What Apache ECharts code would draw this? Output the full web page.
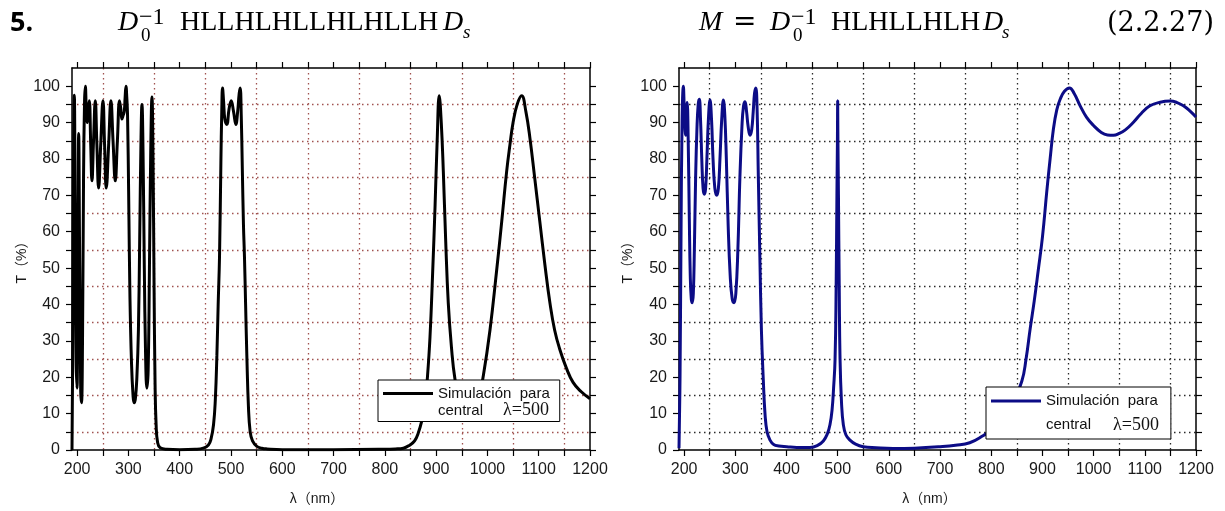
<!DOCTYPE html>
<html>
<head>
<meta charset="utf-8">
<script src="https://cdn.jsdelivr.net/npm/echarts@6/dist/echarts.min.js"></script>
<style>
html,body{margin:0;padding:0;background:#fff;}
#chart{width:1225px;height:511px;}
</style>
</head>
<body>
<div id="chart"></div>
<script>
// ---------- Data: left panel (D0^-1 HLLHLHLLHLHLLH Ds) ----------
const wavelengthA = [190,191.5,193,194.5,196,198,199.7,201.5,203,205,207,208.5,210.5,212.5,214.5,216,218,219.8,221.8,223.7,226.5,228.9,232,235.4,238.5,241.9,246,250.4,253.5,256.8,261.5,265.9,270,274.4,278.5,282.7,285,287.4,289.7,291.9,293.6,295.2,296.8,298.3,300.5,303,306,309,311,313.5,316.5,319.5,322,324.5,326.4,328.5,331,333.5,336,338.5,341,343.5,345.9,348,350,352,354,357,362,375,400,430,446,456,461,466,469.5,472.5,475,477.6,480.3,482,483.5,485.5,488,492,496,500.4,505,509.5,513,516,517.9,520,522,524.3,526.3,528.5,530.9,534,537.4,542,550.4,560,570,600,700,800,820,836,849,858,865,872,878,883,888,893,898,902,906,910,914,918.5,923.7,930,936.7,945,955,965,975,985,992,1005,1018,1028,1037.5,1044,1050,1058,1066.7,1075,1083,1092,1102,1112,1122,1131,1141,1154,1167,1183,1200];
const transmissionA = [0,30,80,97.5,70,25,17,55,87,50,16,13,30,75,96,100,93,90,94,96,84,74,85,96,84,72,84,96,84,72,84,96,85,74,85,96,94,91,92,93,97,100,97,92,70,42,24,15,13,14,20,33,58,85,95,82,50,26,17,22,50,82,97,80,45,18,7,2,0.6,0.2,0.1,0.2,0.5,1.4,3,7,14,26,40,53,79,93,99.5,96,91,89.5,93.5,96,93,89.5,93,98,99.5,92,78,62,53,40,26,12,5,2.5,1,0.5,0.3,0.1,0.1,0.2,0.3,0.5,1.4,2.5,4.6,8,12.2,20,31,48,67.5,85,97.4,90,76.6,58,40.3,28,19.5,14.5,12.5,12,13,16,20.4,33,49.4,63,76.6,84,90,95,97.4,93,85.6,75,63,51,40.3,33,27.7,22.5,18.6,16,14.1];

// ---------- Data: right panel (M = D0^-1 HLHLLHLH Ds) ----------
const wavelengthB = [190,192,194,196,198.5,200.5,203,204.5,206,208,210,212,214,216,218,220,222.5,225,227.5,229.7,232,234.5,237,239.5,242,244.5,247.5,250.6,253.5,256.5,260,263.7,267,270,273.5,276.7,279.5,282.5,286,290,294,297.5,301,305,309,313,316,319,322,325,328.8,332,335,337.5,340,342.5,345,348,351,354.8,358,362,367.8,375,385,400.5,420,446,460,472,480,485,489,492,494.9,497,498.5,499.5,500,500.5,501.5,503,504.6,507.5,511,516,524,535,550,575,608,650,700,730,758,784.7,800,820,840,859.7,868,876,884,892,900,908.6,915,921.5,928,934.6,943,952.8,962,973.7,986,999.7,1015,1027,1038.7,1050,1062,1077.8,1093,1110,1130,1149.6,1163,1175.5,1188,1200];
const transmissionB = [0.5,20,60,90,100,93,86.5,91,95.5,85,65,48,41.5,40.5,43,55,75,88,95,96.4,91,80,72,70.3,72,80,91,96.2,91,80,72,70,72,80,91,96.2,92,80,62,48,41.5,40.5,43,55,75,89,94.5,95.7,93,89,86.5,88,93,98,99.5,94,75,53,33,18.9,10,5,2.7,1.5,1.1,0.9,0.7,0.7,1.2,2.5,4.5,7,11,17,25,45,70,85,96,85,70,45,25,13,7,4.2,2.7,1.6,0.9,0.6,0.4,0.5,0.9,1.3,2,4,5.5,8.5,12.5,18.9,25,33.3,41,49.6,58.5,71.2,80,88.3,93.5,96.4,98.6,99.5,98,94.6,91.5,89.2,87.3,86.6,86.5,87,88,90.1,92.5,94.6,95.6,95.9,95.5,94.6,93.2,91.5];

// ---------- Axis ticks / labels ----------
const xLabelValues = [200,300,400,500,600,700,800,900,1000,1100,1200];
const xTickValues = [200,250,300,350,400,450,500,550,600,650,700,750,800,850,900,950,1000,1050,1100,1150,1200];
const xGridValues = [250,350,450,550,650,750,850,950,1050,1150];
const yLabelValues = [0,10,20,30,40,50,60,70,80,90,100];
const yTickValues = [0,5,10,15,20,25,30,35,40,45,50,55,60,65,70,75,80,85,90,95,100];
const yGridValues = [5,15,25,35,45,55,65,75,85,95];

const seriesNameA = 'Simulación para central λ=500 (5)';
const seriesNameB = 'Simulación para central λ=500 (2.2.27)';
const lineColorA = '#000000';
const lineColorB = '#0c0c86';

const chart = echarts.init(document.getElementById('chart'), null, {renderer: 'canvas'});

const gridDefs = [
  {left: 72, top: 68, width: 518, height: 387},
  {left: 679, top: 68, width: 517, height: 389}
];
const gridColors = ['#a0524f', '#2a2a2a'];
const nameShift = [28, 16];
const yNameGap = [40, 44];

const sansFont = '"Liberation Sans", Arial, sans-serif';
const serifFont = '"Liberation Serif", "Times New Roman", serif';
const plainNum = v => String(v);

const xAxes = [];
const yAxes = [];
gridDefs.forEach((g, i) => {
  const axisLine = {show: true, onZero: false, lineStyle: {color: '#000', width: 1.5}};
  const tickStyle = {color: '#000', width: 1.2};
  xAxes.push({
    gridIndex: i, type: 'value', min: 190, max: 1200, position: 'bottom',
    axisLine: axisLine,
    axisTick: {show: true, inside: false, length: 6, customValues: xTickValues, lineStyle: tickStyle},
    axisLabel: {show: true, customValues: xLabelValues, formatter: plainNum, fontSize: 16, color: '#1a1a1a', margin: 12, fontFamily: sansFont},
    splitLine: {show: false},
    name: 'λ（nm）', nameLocation: 'middle', nameGap: 42,
    nameTextStyle: {fontSize: 14, color: '#1a1a1a', fontFamily: '"Liberation Sans", "Noto Sans CJK SC", sans-serif', padding: [0, nameShift[i], 0, 0]}
  });
  xAxes.push({
    gridIndex: i, type: 'value', min: 190, max: 1200, position: 'top',
    axisLine: axisLine,
    axisTick: {show: true, inside: false, length: 6, customValues: xTickValues, lineStyle: tickStyle},
    axisLabel: {show: false},
    splitLine: {show: false}
  });
  xAxes.push({
    gridIndex: i, type: 'value', min: 190, max: 1200, position: 'bottom',
    axisLine: {show: false},
    axisTick: {show: false, customValues: xGridValues},
    axisLabel: {show: false},
    splitLine: {show: true, lineStyle: {color: gridColors[i], width: 1.3, type: [1.5, 3.5]}}
  });
  yAxes.push({
    gridIndex: i, type: 'value', min: 0, max: 105, position: 'left',
    axisLine: axisLine,
    axisTick: {show: true, inside: false, length: 6, customValues: yTickValues, lineStyle: tickStyle},
    axisLabel: {show: true, customValues: yLabelValues, formatter: plainNum, fontSize: 16, color: '#1a1a1a', margin: 12, fontFamily: sansFont},
    splitLine: {show: false},
    name: 'T（%）', nameLocation: 'middle', nameGap: yNameGap[i], nameRotate: 90,
    nameTextStyle: {fontSize: 14, color: '#1a1a1a', fontFamily: '"Liberation Sans", "Noto Sans CJK SC", sans-serif'}
  });
  yAxes.push({
    gridIndex: i, type: 'value', min: 0, max: 105, position: 'right',
    axisLine: axisLine,
    axisTick: {show: true, inside: false, length: 6, customValues: yTickValues, lineStyle: tickStyle},
    axisLabel: {show: false},
    splitLine: {show: false}
  });
  yAxes.push({
    gridIndex: i, type: 'value', min: 0, max: 105, position: 'left',
    axisLine: {show: false},
    axisTick: {show: false, customValues: yGridValues},
    axisLabel: {show: false},
    splitLine: {show: true, lineStyle: {color: gridColors[i], width: 1.3, type: [1.5, 3.5]}}
  });
});

function legendRich(color, lineH, centralW) {
  return {
    l: {width: 50, height: 3, backgroundColor: color},
    g: {width: 5},
    sp: {width: 55},
    a: {fontSize: 15, fontFamily: sansFont, color: '#111', lineHeight: lineH},
    b: {fontSize: 15, fontFamily: sansFont, color: '#111', lineHeight: lineH, width: centralW},
    c: {fontSize: 18, fontFamily: serifFont, color: '#111', lineHeight: lineH}
  };
}
const legendText = '{l|}{g|}{a|Simulación  para}\n{sp|}{b|central}{c|λ=500}';

const titleFont = '28px "Liberation Serif", serif';
const titleItalic = 'italic 28px "Liberation Serif", serif';
function t(x, y, text, font) {
  return {type: 'text', x: x, y: y, style: {text: text, font: font, fill: '#000', verticalAlign: 'middle', textVerticalAlign: 'middle'}};
}

const option = {
  backgroundColor: '#ffffff',
  animation: false,
  grid: gridDefs.map(g => Object.assign({containLabel: false}, g)),
  xAxis: xAxes,
  yAxis: yAxes,
  legend: [
    {
      data: [seriesNameA], left: 378, top: 380, orient: 'vertical', icon: 'none',
      itemWidth: 0, itemHeight: 14, padding: [5, 10, 2, 0],
      backgroundColor: '#fff', borderColor: '#000', borderWidth: 1, selectedMode: false,
      formatter: () => legendText,
      textStyle: {lineHeight: 17, rich: legendRich(lineColorA, 17, 65)}
    },
    {
      data: [seriesNameB], left: 986, top: 387, orient: 'vertical', icon: 'none',
      itemWidth: 0, itemHeight: 14, padding: [2, 12, 2, 0],
      backgroundColor: '#fff', borderColor: '#000', borderWidth: 1, selectedMode: false,
      formatter: () => legendText,
      textStyle: {lineHeight: 24, rich: legendRich(lineColorB, 24, 67)}
    }
  ],
  series: [
    {
      name: seriesNameA, type: 'line', xAxisIndex: 0, yAxisIndex: 0,
      data: wavelengthA.map((w, k) => [w, transmissionA[k]]),
      showSymbol: false, smooth: 0.45,
      lineStyle: {color: lineColorA, width: 3}, itemStyle: {color: lineColorA}, z: 3
    },
    {
      name: seriesNameB, type: 'line', xAxisIndex: 3, yAxisIndex: 3,
      data: wavelengthB.map((w, k) => [w, transmissionB[k]]),
      showSymbol: false, smooth: 0.45,
      lineStyle: {color: lineColorB, width: 3}, itemStyle: {color: lineColorB}, z: 3
    }
  ],
  graphic: [
    t(10, 23, '5.', 'bold 27px "Open Sans", sans-serif'),
    // left formula
    t(118, 23, 'D', titleItalic),
    t(141, 36, '0', '19px "Liberation Serif", serif'),
    t(139, 18, '−1', '24px "Liberation Serif", serif'),
    t(180, 23, 'HLLHLHLLHLHLLH', titleFont),
    t(443, 23, 'D', titleItalic),
    t(463, 33, 's', 'italic 19px "Liberation Serif", serif'),
    // right formula
    t(699, 23, 'M', titleItalic),
    t(733, 23, '=', '28px "DejaVu Sans", sans-serif'),
    t(770, 23, 'D', titleItalic),
    t(793, 36, '0', '19px "Liberation Serif", serif'),
    t(791, 18, '−1', '24px "Liberation Serif", serif'),
    t(831, 23, 'HLHLLHLH', titleFont),
    t(983, 23, 'D', titleItalic),
    t(1002, 33, 's', 'italic 19px "Liberation Serif", serif'),
    t(1107, 24, '(2.2.27)', '27px "DejaVu Serif", serif')
  ]
};
chart.setOption(option);
</script>
</body>
</html>
